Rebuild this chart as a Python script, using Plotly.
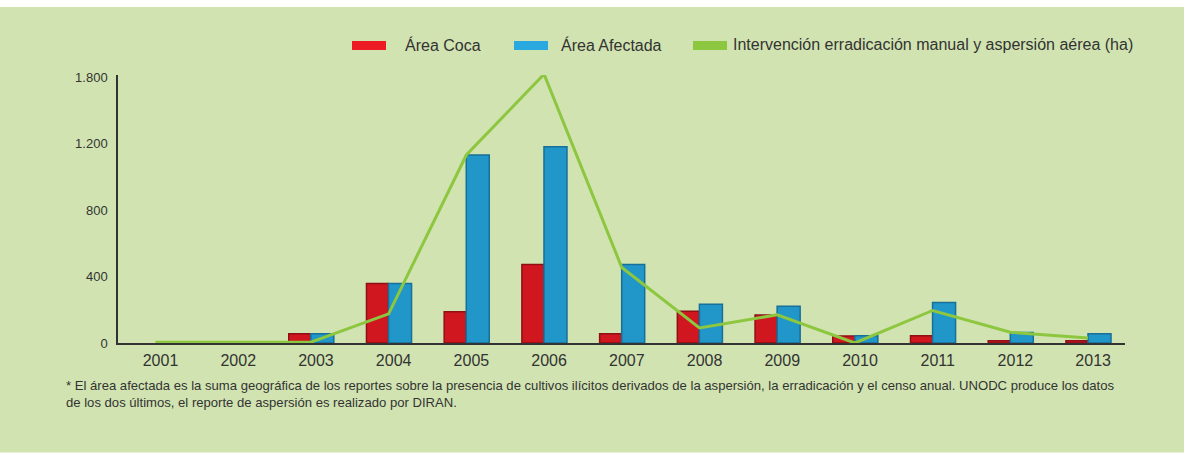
import plotly.graph_objects as go

years = ["2001", "2002", "2003", "2004", "2005", "2006", "2007",
         "2008", "2009", "2010", "2011", "2012", "2013"]
area_coca = [None, None, 55, 358, 188, 473, 55, 192, 168, 42, 44, 14, 14]
area_afectada = [None, None, 55, 358, 1133, 1182, 473, 233, 222, 44, 244, 63, 55]
intervencion = [5, 5, 5, 176, 1133, 1620, 455, 91, 170, 0, 196, 65, 30]

y_tickvals = [0, 400, 800, 1200, 1600]
y_ticktext = ["0", "400", "800", "1.200", "1.800"]

legend_labels = ["Área Coca", "Área Afectada",
                 "Intervención erradicación manual y aspersión aérea (ha)"]
footnote = ("* El área afectada es la suma geográfica de los reportes sobre la presencia de cultivos ilícitos "
            "derivados de la aspersión, la erradicación y el censo anual. UNODC produce los datos<br>"
            "de los dos últimos, el reporte de aspersión es realizado por DIRAN.")

W, H = 1192, 455
L, R, T, B = 118, 1125, 75, 342.7
pw, ph = R - L, B - T


def px(x):
    return (x - L) / pw


def py(y):
    return (B - y) / ph


BG = "#D1E3B0"
FONT = "Liberation Sans Narrow, Liberation Sans, Arial, sans-serif"
XRANGE = [-0.547, 12.41]
SHIFT = 0.065  # line vertices sit on the bar-group centres

fig = go.Figure()
fig.add_trace(go.Bar(x=years, y=area_coca, name=legend_labels[0],
                     offset=-0.35, width=0.284,
                     marker=dict(color="#D0161F", line=dict(color="#8E0F14", width=1.5)),
                     showlegend=False))
fig.add_trace(go.Bar(x=years, y=area_afectada, name=legend_labels[1],
                     offset=-0.066, width=0.296,
                     marker=dict(color="#2196C9", line=dict(color="#186F97", width=1.5)),
                     showlegend=False))
fig.add_trace(go.Scatter(x=years, y=intervencion, name=legend_labels[2], mode="lines",
                         xaxis="x2",
                         line=dict(color="#8DC63F", width=3), cliponaxis=False,
                         showlegend=False))

shapes = [dict(type="rect", xref="paper", yref="paper", layer="below",
               x0=px(0), x1=px(1184), y0=py(452), y1=py(7),
               fillcolor=BG, line=dict(width=0))]
annotations = []
legend_items = [(352, 386, 403, "#ED1C24"), (514, 548, 559, "#29A9E0"), (693, 727, 731, "#8DC63F")]
for (sx0, sx1, tx, col), lab in zip(legend_items, legend_labels):
    shapes.append(dict(type="rect", xref="paper", yref="paper",
                       x0=px(sx0), x1=px(sx1), y0=py(50), y1=py(41),
                       fillcolor=col, line=dict(width=0)))
    annotations.append(dict(xref="paper", yref="paper", x=px(tx), y=py(45),
                            xanchor="left", yanchor="middle", text=lab, showarrow=False,
                            font=dict(family=FONT, size=16, color="#333333")))
annotations.append(dict(xref="paper", yref="paper", x=px(64), y=py(376),
                        xanchor="left", yanchor="top", align="left", text=footnote,
                        showarrow=False,
                        font=dict(family=FONT, size=13.1, color="#333333")))

fig.update_layout(
    width=W, height=H,
    margin=dict(l=L, r=W - R, t=T, b=H - B, pad=0),
    paper_bgcolor="white", plot_bgcolor="rgba(0,0,0,0)",
    barmode="overlay",
    shapes=shapes, annotations=annotations,
    showlegend=False,
    xaxis=dict(type="category", range=XRANGE, showgrid=False,
               showline=True, linecolor="#333333", linewidth=1.5, ticks="",
               tickfont=dict(family="Liberation Sans, Arial", size=16, color="#333333"),
               ticklabelstandoff=2),
    xaxis2=dict(type="category", overlaying="x", matches=None,
                range=[XRANGE[0] + SHIFT, XRANGE[1] + SHIFT],
                visible=False, showgrid=False),
    yaxis=dict(range=[0, 1615], tickvals=y_tickvals, ticktext=y_ticktext,
               showgrid=False, zeroline=False, showline=True, linecolor="#333333",
               linewidth=1.5, ticks="", ticklabelstandoff=6,
               tickfont=dict(family=FONT, size=13, color="#333333")),
)

fig.write_html("out.html", config={"displayModeBar": False},
               post_script="document.body.style.margin='0px';")
